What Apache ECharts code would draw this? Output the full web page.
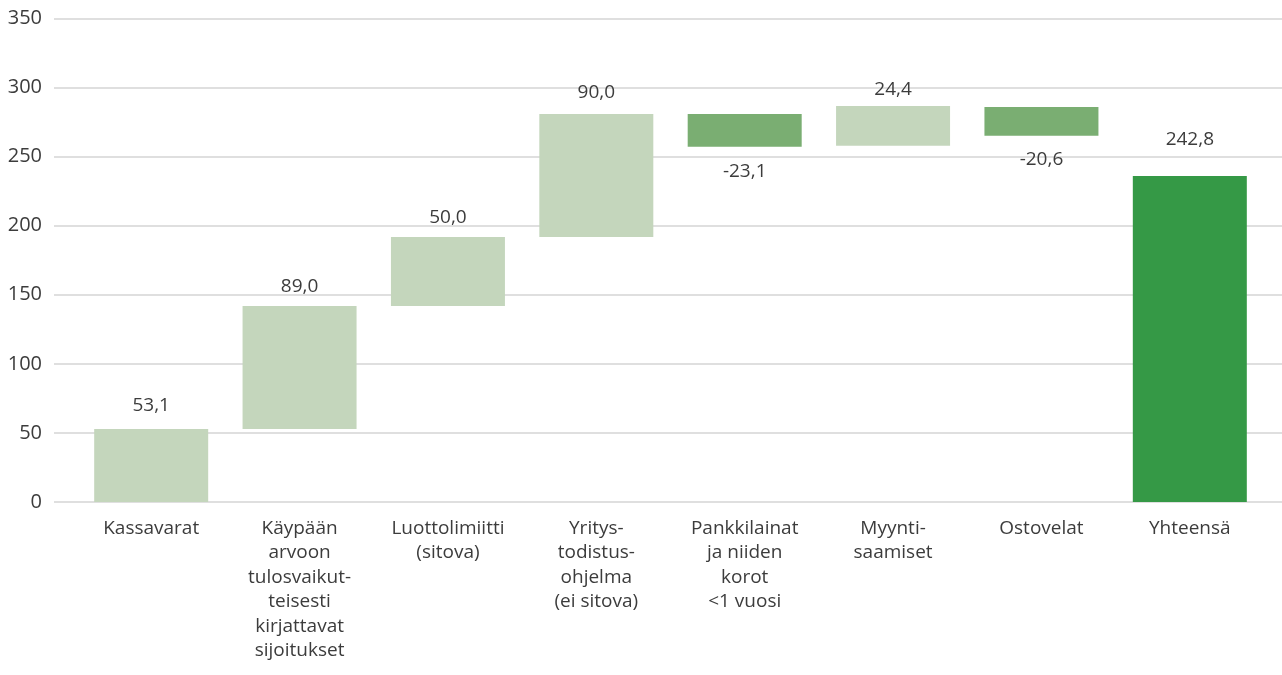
<!DOCTYPE html>
<html>
<head>
<meta charset="utf-8">
<script src="https://cdn.jsdelivr.net/npm/echarts@6/dist/echarts.min.js"></script>
<style>
  html, body { margin: 0; padding: 0; background: #fff; }
  #chart { width: 1282px; height: 675px; }
</style>
</head>
<body>
<div id="chart"></div>
<script>
// data
const categories = [
  'Kassavarat',
  'Käypään\narvoon\ntulosvaikut-\nteisesti\nkirjattavat\nsijoitukset',
  'Luottolimiitti\n(sitova)',
  'Yritys-\ntodistus-\nohjelma\n(ei sitova)',
  'Pankkilainat\nja niiden\nkorot\n<1 vuosi',
  'Myynti-\nsaamiset',
  'Ostovelat',
  'Yhteensä'
];
const barLow = [0, 52.8, 141.9, 191.8, 257.2, 257.9, 265.2, 0];
const barHigh = [52.8, 141.9, 191.8, 280.9, 280.9, 286.7, 285.9, 236.0];
const valueLabels = ['53,1', '89,0', '50,0', '90,0', '-23,1', '24,4', '-20,6', '242,8'];
const barKind = ['up', 'up', 'up', 'up', 'down', 'up', 'down', 'total'];
const yTicks = { min: 0, max: 350, interval: 50 };

const colors = {
  up: '#c4d6bc',
  down: '#7aae72',
  total: '#359946',
};
const textColor = '#3c3c3c';
const fontFamily = '"Open Sans", "Noto Sans", sans-serif';
// gap between bar end and its value label
const labelGap = [14, 10, 10, 12, 15, 7, 14, 27];

const chart = echarts.init(document.getElementById('chart'));

const option = {
  animation: false,
  textStyle: { fontFamily: fontFamily },
  grid: [
    { left: 54, right: 0, top: 18.5, bottom: 173 }, // gridlines + y labels
    { left: 77, right: 18, top: 18.5, bottom: 173 }, // bars
  ],
  xAxis: [
    {
      type: 'category',
      gridIndex: 0,
      data: categories,
      show: false,
    },
    {
      type: 'category',
      gridIndex: 1,
      data: categories,
      axisLine: { show: false },
      axisTick: { show: false },
      axisLabel: {
        interval: 0,
        color: textColor,
        fontSize: 19,
        lineHeight: 24.5,
        margin: 14,
      },
    },
  ],
  yAxis: [
    {
      type: 'value',
      gridIndex: 0,
      min: yTicks.min,
      max: yTicks.max,
      interval: yTicks.interval,
      axisLine: { show: false },
      axisTick: { show: false },
      axisLabel: { color: textColor, fontSize: 20, margin: 12 },
      splitLine: { lineStyle: { color: '#d4d4d4', width: 1.5 } },
    },
    {
      type: 'value',
      gridIndex: 1,
      min: yTicks.min,
      max: yTicks.max,
      interval: yTicks.interval,
      show: false,
      splitLine: { show: false },
    },
  ],
  series: [
    {
      name: 'base',
      type: 'bar',
      xAxisIndex: 1,
      yAxisIndex: 1,
      stack: 'wf',
      barWidth: 114,
      silent: true,
      itemStyle: { color: 'transparent' },
      data: barLow,
    },
    {
      name: 'value',
      type: 'bar',
      xAxisIndex: 1,
      yAxisIndex: 1,
      stack: 'wf',
      barWidth: 114,
      data: barHigh.map((high, i) => ({
        value: +(high - barLow[i]).toFixed(1),
        itemStyle: { color: colors[barKind[i]] },
        label: {
          show: true,
          position: barKind[i] === 'down' ? 'bottom' : 'top',
          distance: labelGap[i],
          color: textColor,
          fontSize: 19,
          formatter: () => valueLabels[i],
        },
      })),
    },
  ],
};

chart.setOption(option);
</script>
</body>
</html>
